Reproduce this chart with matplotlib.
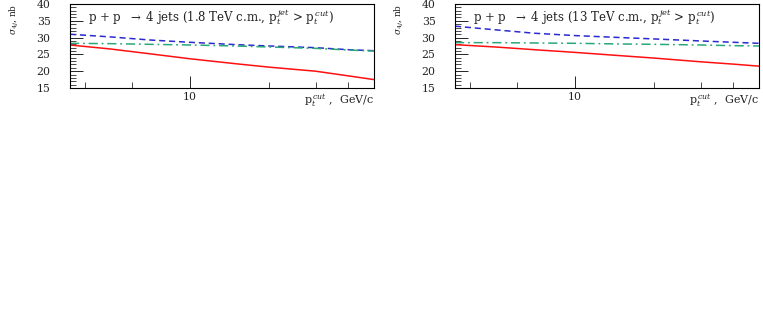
import numpy as np
import matplotlib
matplotlib.use("Agg")
from matplotlib import pyplot as plt
from matplotlib.ticker import FixedLocator, NullFormatter, MultipleLocator

plt.rcParams['font.family'] = ['DejaVu Serif']
plt.rcParams['mathtext.fontset'] = 'dejavuserif'

pt_cut = [3.5, 5, 7, 10, 15, 20, 30, 40, 50]

# 1.8 TeV panel, sigma_4j in nb
red_18 = [27.8, 26.6, 25.2, 23.7, 22.2, 21.2, 20.0, 18.6, 17.5]
blue_18 = [31.0, 30.2, 29.3, 28.6, 27.9, 27.5, 27.0, 26.4, 26.1]
green_18 = [28.3, 28.2, 28.0, 27.8, 27.5, 27.2, 26.8, 26.3, 26.0]

# 13 TeV panel
red_13 = [27.9, 27.2, 26.4, 25.6, 24.6, 23.9, 22.8, 22.1, 21.5]
blue_13 = [33.4, 32.3, 31.3, 30.6, 30.0, 29.6, 29.0, 28.6, 28.3]
green_13 = [28.5, 28.5, 28.4, 28.3, 28.1, 28.0, 27.8, 27.6, 27.5]

titles = [r'p + p  $\rightarrow$ 4 jets (1.8 TeV c.m., p$_t^{\,jet}$ > p$_t^{\,cut}$)',
          r'p + p  $\rightarrow$ 4 jets (13 TeV c.m., p$_t^{\,jet}$ > p$_t^{\,cut}$)']
panels = [(red_18, blue_18, green_18), (red_13, blue_13, green_13)]

W, H = 763, 327
fig = plt.figure(figsize=(W / 100, H / 100), dpi=100)
txt = '#222222'

lefts = [70, 455]
for k, (left, (red, blue, green)) in enumerate(zip(lefts, panels)):
    ax = fig.add_axes([left / W, (H - 88) / H, 304 / W, 84 / H])
    ax.plot(pt_cut, red, color='#ff1010', lw=1.1, ls='-')
    ax.plot(pt_cut, blue, color='#2a2ad0', lw=1.1, ls=(0, (4, 2.5)))
    ax.plot(pt_cut, green, color='#2aa878', lw=1.1, ls=(0, (6, 2.5, 1.2, 2.5)))
    ax.set_xscale('log')
    ax.set_xlim(3.5, 50)
    ax.set_ylim(15, 40)
    ax.xaxis.set_major_locator(FixedLocator([10]))
    ax.xaxis.set_minor_locator(FixedLocator([4, 6, 20, 30, 40]))
    ax.xaxis.set_minor_formatter(NullFormatter())
    ax.set_xticklabels(['10'])
    ax.yaxis.set_major_locator(MultipleLocator(5))
    ax.yaxis.set_minor_locator(MultipleLocator(1))
    ax.tick_params(which='major', direction='in', length=9, width=0.6,
                   labelsize=7.8, labelcolor=txt, top=False, right=False, pad=3)
    ax.tick_params(which='minor', direction='in', length=4, width=0.5,
                   top=False, right=False)
    ax.tick_params(axis='y', which='major', pad=14)
    for s in ax.spines.values():
        s.set_linewidth(0.8)
    ax.text(0.06, 0.97, titles[k], transform=ax.transAxes, fontsize=8.5,
            va='top', ha='left', color=txt)
    ax.text(1.0, -0.05, r'p$_t^{\,cut}$ ,  GeV/c', transform=ax.transAxes,
            fontsize=8, va='top', ha='right', color=txt)
    fig.text((left - 62) / W, 1 - 4 / H, r'$\sigma_{4j}$, nb', rotation=90,
             fontsize=6.5, va='top', ha='left', color=txt)

fig.savefig('out.png', dpi=100)
